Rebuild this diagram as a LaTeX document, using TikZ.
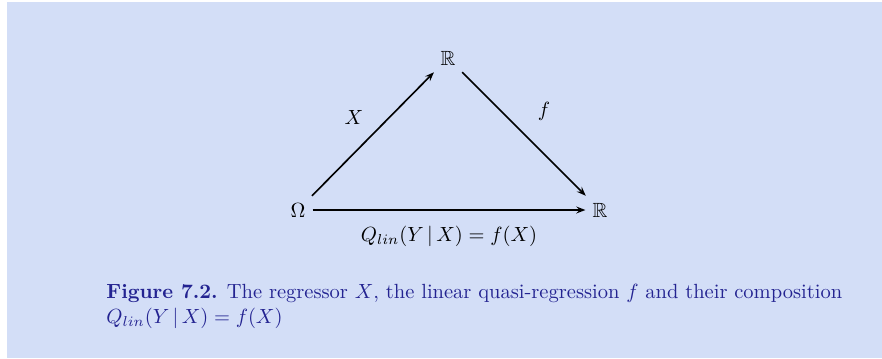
\documentclass[tikz,border=0pt]{standalone}
\usepackage{amssymb}
\usetikzlibrary{arrows.meta}

\definecolor{fondbleu}{RGB}{211,222,247}
\definecolor{bleulegende}{RGB}{35,35,145}

\begin{document}
\begin{tikzpicture}[>={Stealth[length=4.5pt, width=3.4pt, inset=1.6pt]}, x=0.01714cm, y=-0.01714cm]

    % --- Fond ---
    \fill[white] (0,0) rectangle (882,358);
    \fill[fondbleu] (7,2) rectangle (882,358);

    % --- Styles ---
    \tikzstyle{objet} = [inner sep=3.3pt]
    \tikzstyle{fleche} = [->, line width=0.8pt]
    \tikzstyle{legende} = [bleulegende, anchor=north west, align=left, inner sep=0pt]

    % --- Objets ---
    \node[objet] (Omega) at (298,210) {$\Omega$};
    \node[objet] (Rhaut) at (448,58) {$\mathbb{R}$};
    \node[objet] (Rdroite) at (600,210) {$\mathbb{R}$};

    % --- Fleches ---
    \draw[fleche] (Omega) -- node[above left=1pt] (labX) {$X$} (Rhaut);
    \draw[fleche] (Rhaut) -- node[above right=3pt] (labf) {$f$} (Rdroite);
    \draw[fleche] (Omega) -- node[below=4pt] (labQ) {$Q_{lin}(Y\,|\,X) = f(X)$} (Rdroite);

    % --- Legende ---
    \node[legende] (titre) at (106,284)
        {\textbf{Figure 7.2.} The regressor $X$, the linear quasi-regression $f$ and their composition\\
         $Q_{lin}(Y\,|\,X) = f(X)$};

\end{tikzpicture}
\end{document}
